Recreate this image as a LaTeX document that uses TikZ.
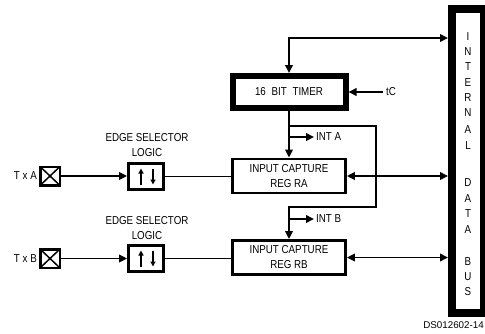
\documentclass[tikz,border=0pt]{standalone}
\usepackage{fontspec}
\setmainfont{Liberation Sans}[FakeStretch=0.85]
\newfontfamily\codefont{Liberation Sans}
\usepackage{tikz}
\usetikzlibrary{arrows.meta}
\usetikzlibrary{positioning}

\begin{document}
\begin{tikzpicture}
      [x=1pt,y=-1pt,line join=miter,
       font=\fontsize{11.5}{15}\selectfont,
       conn/.style={line width=1.9pt},
       arr/.style={conn,-{Triangle[length=8pt,width=7.5pt]}},
       dblarr/.style={conn,{Triangle[length=8pt,width=7.5pt]}-{Triangle[length=8pt,width=7.5pt]}},
       updn/.style={line width=1.5pt,-{Triangle[length=5pt,width=5pt]}},
       regbox/.style={draw,line width=2.8pt,minimum width=113pt,minimum height=34pt,inner sep=0pt,align=center},
       timerbox/.style={draw,line width=6pt,minimum width=113pt,minimum height=32pt,inner sep=0pt},
       busbox/.style={draw,line width=8pt,minimum width=32pt,minimum height=304pt,inner sep=0pt},
       edgebox/.style={draw,line width=2.8pt,minimum width=35pt,minimum height=26pt,inner sep=0pt},
       padbox/.style={draw,line width=2.5pt,minimum width=19.5pt,minimum height=18.5pt,inner sep=0pt,
         path picture={\draw[line width=1.5pt] (path picture bounding box.north west) -- (path picture bounding box.south east)
           (path picture bounding box.south west) -- (path picture bounding box.north east);}}]

  \useasboundingbox (0,0) rectangle (485,333);

%bus on the right
  \node[busbox] (bus) at (468,161) {};
  \foreach \ch/\yy in {I/37,N/52,T/67,E/83,R/98,N/113,A/130,L/146,D/183,A/199,T/214,A/230,B/262,U/277,S/292}
    \node (lt\yy) at (468,\yy) {\ch};

%timer and capture registers
  \node[timerbox] (timer) at (289,92) {16\hspace{3pt} BIT\hspace{3pt} TIMER};
  \node[regbox] (regA) at (289,176) {INPUT CAPTURE\\REG RA};
  \node[regbox] (regB) at (289,257.5) {INPUT CAPTURE\\REG RB};
  \node (tclk) at (391,92) {tC};

%edge selectors and pins
  \node[edgebox] (edgeA) at (146,176.5) {};
  \node[edgebox] (edgeB) at (146,258.5) {};
  \node[align=center] (selA) at (147,145) {EDGE SELECTOR\\LOGIC};
  \node[align=center] (selB) at (147,228) {EDGE SELECTOR\\LOGIC};
  \foreach \e in {edgeA,edgeB} {
    \draw[updn] (\e.center) ++(-5,8) -- ++(0,-16);
    \draw[updn] (\e.center) ++(7,-8) -- ++(0,16);
  }
  \node[padbox] (padA) at (50,176) {};
  \node[padbox] (padB) at (50,258.5) {};
  \node[anchor=east,inner sep=2pt] (txA) at (padA.west) {T x A};
  \node[anchor=east,inner sep=2pt] (txB) at (padB.west) {T x B};

%connections
  \coordinate (top) at (0,38);
  \draw[dblarr] (timer.north) |- (bus.west |- top);
  \draw[arr] (tclk.west) -- (timer.east);
  \draw[arr] (timer.south) -- (regA.north);

  \coordinate (brTop) at (289,126);
  \coordinate (loop) at (376,207);
  \draw[arr] (brTop) -| (loop) -- (loop -| regB.north) -- (regB.north);

  \coordinate (intA) at (289,137);
  \coordinate (intB) at (289,219);
  \node[anchor=west,inner sep=2pt] (intAlbl) at (314,137) {INT A};
  \node[anchor=west,inner sep=2pt] (intBlbl) at (314,219) {INT B};
  \draw[arr] (intA) -- (intAlbl.west);
  \draw[arr] (intB) -- (intBlbl.west);

  \draw[arr] (padA.east) -- (padA.east -| edgeA.west);
  \draw[arr] (padB.east) -- (padB.east -| edgeB.west);
  \draw[conn] (edgeA.east) -- (edgeA.east -| regA.west);
  \draw[conn] (edgeB.east) -- (edgeB.east -| regB.west);
  \draw[dblarr] (regA.east) -- (regA.east -| bus.west);
  \draw[dblarr] (regB.east) -- (regB.east -| bus.west);

  \node[anchor=east,inner sep=0pt,font=\codefont\fontsize{9.8}{11}\selectfont] (code) at (484,325) {DS012602-14};

\end{tikzpicture}
\end{document}
